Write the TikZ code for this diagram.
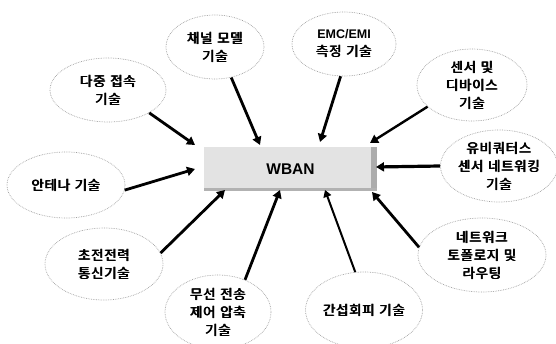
\documentclass[tikz,border=0pt]{standalone}
\usepackage{fontspec}
\setmainfont{Liberation Sans}
\newfontfamily\krfont{Noto Sans CJK KR}[LetterSpace=5, WordSpace=1.25]
\usetikzlibrary{shapes.geometric,arrows.meta}

% heavy strokes for the Hangul labels: the line is set three times, shifted slightly
\newcommand\heavyline[1]{\leavevmode\rlap{#1}\kern0.45pt\rlap{#1}\kern0.45pt#1}

\tikzset{
  topic/.style={ellipse, draw=gray!75, densely dotted, line width=0.7pt,
    inner sep=0pt, align=center, font=\krfont\fontsize{13.5}{18}\selectfont},
  feed/.style={line width=2.8pt, -{Triangle[length=8pt,width=9pt]}},
  thinfeed/.style={line width=2pt, -{Triangle[length=7pt,width=8pt]}},
  hub/.style={rectangle, fill=gray!22, minimum width=173pt, minimum height=44pt,
    inner sep=0pt}
}

\begin{document}
\begin{tikzpicture}[x=1pt,y=-1pt]
  \useasboundingbox (0,0) rectangle (556,344);

  % central WBAN block with its darker right and bottom edges
  \node[hub] (wban) at (290.5,169) {};
  \fill[gray!65] (371,147) rectangle (377,191);
  \fill[gray!60] (204,188) rectangle (377,191);
  \node[font=\bfseries\fontsize{15.5}{18}\selectfont] (wbanlabel) at (wban.center) {WBAN};

  % surrounding technology topics
  \node[topic, minimum width=98pt, minimum height=64pt] (chan)  at (215,47)
    {\heavyline{채널 모델}\\\heavyline{기술}};
  \node[topic, minimum width=104pt, minimum height=64pt] (emc)  at (344,44)
    {{\rmfamily\bfseries\fontsize{12.5}{18}\selectfont EMC/EMI}\\\heavyline{측정 기술}};
  \node[topic, minimum width=116pt, minimum height=64pt] (multi) at (108,90)
    {\heavyline{다중 접속}\\\heavyline{기술}};
  \node[topic, minimum width=110pt, minimum height=72pt] (sensor) at (472,85)
    {\heavyline{센서 및}\\\heavyline{디바이스}\\\heavyline{기술}};
  \node[topic, minimum width=118pt, minimum height=66pt] (ant)   at (66,185)
    {\heavyline{안테나 기술}};
  \node[topic, minimum width=110pt, minimum height=72pt] (ubi)   at (499,166)
    {\heavyline{유비쿼터스}\\\heavyline{센서 네트워킹}\\\heavyline{기술}};
  \node[topic, minimum width=118pt, minimum height=72pt] (ulp)   at (104,264)
    {\heavyline{초전전력}\\\heavyline{통신기술}};
  \node[topic, minimum width=106pt, minimum height=74pt] (wire)  at (218,312)
    {\heavyline{무선 전송}\\\heavyline{제어 압축}\\\heavyline{기술}};
  \node[topic, minimum width=110pt, minimum height=76pt] (avoid) at (364,310)
    {\heavyline{간섭회피 기술}};
  \node[topic, minimum width=128pt, minimum height=74pt] (net)   at (482,255)
    {\heavyline{네트워크}\\\heavyline{토폴로지 및}\\\heavyline{라우팅}};

  % arrow tips at the block
  \coordinate (hmulti)  at (195,145);
  \coordinate (hchan)   at (260,145);
  \coordinate (hemc)    at (320,142);
  \coordinate (hsensor) at (370,143);
  \coordinate (hant)    at (195,169);
  \coordinate (hubi)    at (376,167);
  \coordinate (hulp)    at (225,190);
  \coordinate (hwire)   at (280,190);
  \coordinate (havoid)  at (325,190);
  \coordinate (hnet)    at (372,192);

  % connectors
  \draw[feed] (multi.-29)   -- (hmulti);
  \draw[feed] (chan.-62)    -- (hchan);
  \draw[feed] (emc.-96)     -- (hemc);
  \draw[feed, line width=2.4pt] (sensor.-154) -- (hsensor);
  \draw[feed] (ant.-5)      -- (hant);
  \draw[feed, line width=3.2pt] (ubi.180) -- (hubi);
  \draw[feed] (ulp.11)      -- (hulp);
  \draw[feed] (wire.50)     -- (hwire);
  \draw[thinfeed] (avoid.103) -- (havoid);
  \draw[feed] (net.173)     -- (hnet);
\end{tikzpicture}
\end{document}
